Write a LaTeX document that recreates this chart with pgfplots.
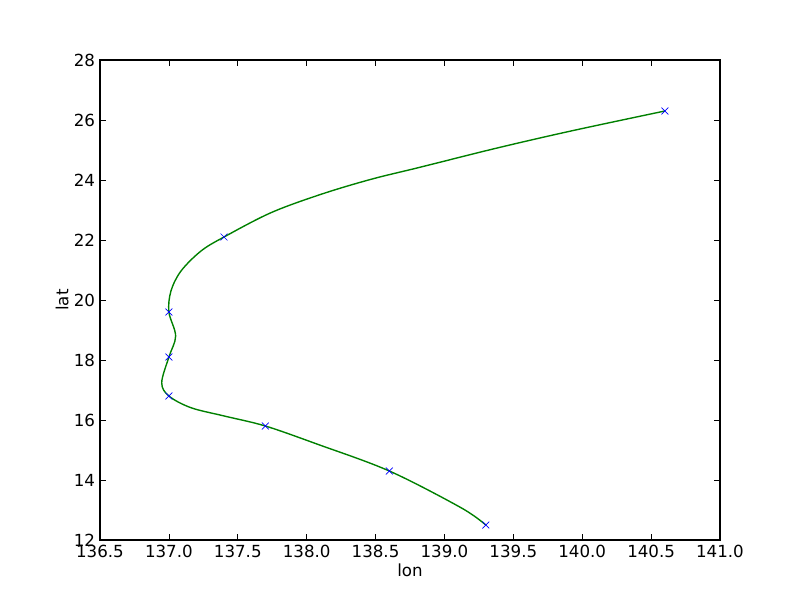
\documentclass[border=0pt]{standalone}
\usepackage{pgfplots}
\pgfplotsset{compat=1.18}
\usepackage{fontspec}
\setmainfont{DejaVu Sans}
\begin{document}
\begin{tikzpicture}[font=\fontsize{12pt}{14pt}\selectfont]
\path[use as bounding box] (0,0) rectangle (576pt,432pt);
\begin{axis}[
  at={(72pt,43.2pt)}, anchor=south west,
  scale only axis, width=446.4pt, height=345.6pt,
  xmin=136.5, xmax=141.0, ymin=12, ymax=28,
  xtick={136.5,137.0,...,141.0},
  ytick={12,14,...,28},
  xticklabel style={/pgf/number format/.cd, fixed, precision=1, zerofill, use period},
  /pgf/number format/assume math mode=true,
  /pgf/number format/1000 sep={},
  tick align=inside, major tick length=4pt,
  tick style={black, line width=0.5pt},
  axis line style={line width=1pt},
  xlabel={lon}, ylabel={lat},
  xlabel style={yshift=2pt}, ylabel style={yshift=-3pt},
  clip=true,
]
\addplot[color={rgb,1:red,0;green,0.5;blue,0}, line width=1pt, smooth, tension=0.55] coordinates {
(139.3,12.5) (139.12,13.077) (138.6,14.3) (138.08,15.19) (137.7,15.8) (137.402,16.133) (137.16,16.41)
(137.0,16.8) (136.948,17.243) (137.0,18.1) (137.049,18.8) (137.0,19.6) (137.015,20.3)
(137.088,20.967) (137.233,21.633) (137.4,22.1) (137.741,22.91) (138.104,23.523)
(138.467,24.023) (138.83,24.433) (139.374,25.057) (139.918,25.633) (140.6,26.3)
};
\addplot[only marks, mark=x, mark size=3.5pt, color=blue, mark options={line width=0.5pt}] coordinates {
(139.3,12.5) (138.6,14.3) (137.7,15.8) (137.0,16.8) (137.0,18.1) (137.0,19.6) (137.4,22.1) (140.6,26.3)
};
\end{axis}
\end{tikzpicture}
\end{document}
